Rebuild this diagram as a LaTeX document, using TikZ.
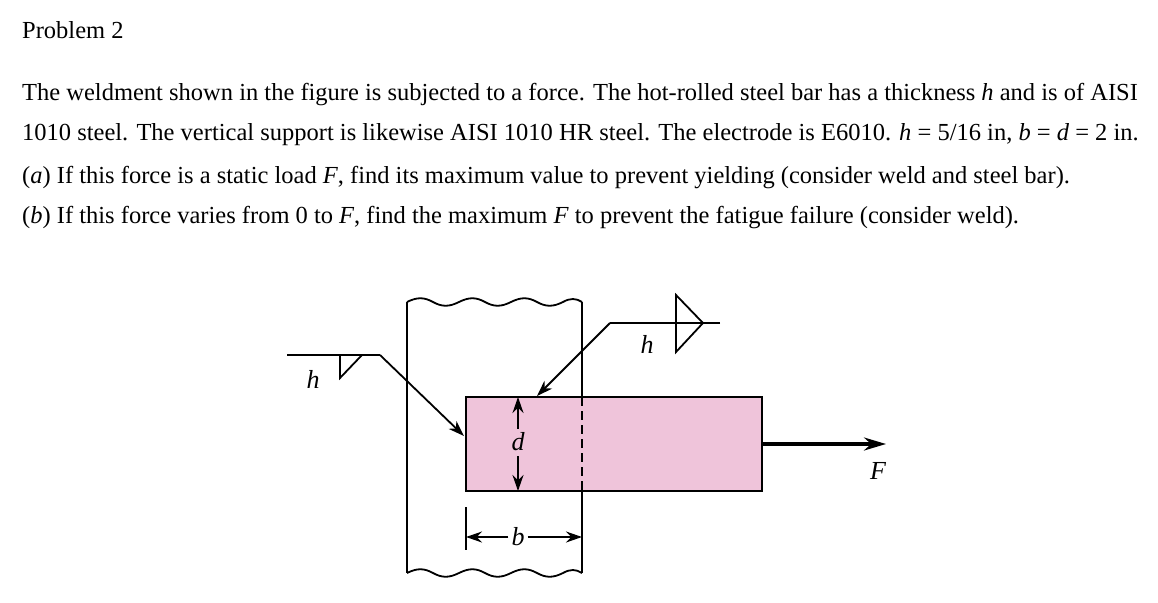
\documentclass[tikz,border=0pt]{standalone}
\usepackage{fontspec}
\setmainfont{Liberation Serif}
\usetikzlibrary{arrows.meta}
\definecolor{barpink}{RGB}{239,196,218}
\tikzset{txt/.style={anchor=west,inner sep=0pt,font=\fontsize{24.5}{28}\selectfont},
 lbl/.style={inner sep=0pt,font=\fontsize{26}{28}\selectfont\itshape},
 ln/.style={line width=1.8pt},
 arr/.style={ln,-{Stealth[length=16pt,width=11pt]}}}
\begin{document}
\begin{tikzpicture}[x=1pt,y=-1pt]
\useasboundingbox (0,0) rectangle (1158,602);
\node[txt] (t0) at (22,30) {Problem 2};
\node[txt] (t1) at (22,95) {The weldment shown in the figure is subjected to a force. The hot-rolled steel bar has a thickness \textit{h} and is of AISI};
\node[txt] (t2) at (22,135) {1010 steel. The vertical support is likewise AISI 1010 HR steel. The electrode is E6010. \textit{h} = 5/16 in, \textit{b} = \textit{d} = 2 in.};
\node[txt] (t3) at (22,178) {(\textit{a}) If this force is a static load \textit{F}, find its maximum value to prevent yielding (consider weld and steel bar).};
\node[txt] (t4) at (22,218) {(\textit{b}) If this force varies from 0 to \textit{F}, find the maximum \textit{F} to prevent the fatigue failure (consider weld).};
% support
\draw[ln] (582,302) -- (582,397) (582,491) -- (582,573)
 (407,302) -- (407,573);
\draw[ln] (407,302) .. controls (417,297) and (424,297) .. (433,302) .. controls (442,307) and (449,307) .. (459,302)
 .. controls (469,297) and (476,297) .. (485,302) .. controls (494,307) and (501,307) .. (511,302)
 .. controls (521,297) and (528,297) .. (537,302) .. controls (546,307) and (553,307) .. (563,302)
 .. controls (570,298) and (576,298) .. (582,302);
\draw[ln] (407,573) .. controls (417,568) and (424,568) .. (433,573) .. controls (442,578) and (449,578) .. (459,573)
 .. controls (469,568) and (476,568) .. (485,573) .. controls (494,578) and (501,578) .. (511,573)
 .. controls (521,568) and (528,568) .. (537,573) .. controls (546,578) and (553,578) .. (563,573)
 .. controls (570,569) and (576,569) .. (582,573);
% bar
\draw[ln,fill=barpink] (466,397) rectangle (762,491);
\draw[ln,dash pattern=on 9pt off 5pt] (582,397) -- (582,491);
% left leader
\coordinate (l0) at (287,355); \coordinate (l1) at (380,355); \coordinate (l2) at (464,436);
\draw[ln] (l0) -- (l1);
\draw[arr] (l1) -- (l2);
\draw[ln] (340,355) -- (340,378) -- (362,355);
\node[lbl] (hl) at (313,379) {h};
% right leader
\coordinate (r0) at (720,323); \coordinate (r1) at (610,323); \coordinate (r2) at (537,396);
\draw[ln] (r0) -- (r1);
\draw[arr] (r1) -- (r2);
\draw[ln] (676,295) -- (676,352) -- (703,323) -- cycle;
\node[lbl] (hr) at (647,344) {h};
% d dimension
\node[lbl] (dl) at (518,442) {d};
\coordinate (dt) at (518,397); \coordinate (db) at (518,491);
\draw[arr] (dl.north) ++(0,-4) -- (dt);
\draw[arr] (dl.south) ++(0,5) -- (db);
% b dimension
\draw[ln] (466,507) -- (466,550);
\node[lbl] (bl) at (518,537) {b};
\coordinate (bL) at (466,537); \coordinate (bR) at (582,537);
\draw[arr] (bl.west) ++(-3,0) -- (bL);
\draw[arr] (bl.east) ++(3,0) -- (bR);
% force
\coordinate (f0) at (762,444); \coordinate (f1) at (886,444);
\draw[line width=3.2pt,-{Stealth[length=22pt,width=13pt]}] (f0) -- (f1);
\node[lbl] (F) at (878,471) {F};
\end{tikzpicture}
\end{document}
